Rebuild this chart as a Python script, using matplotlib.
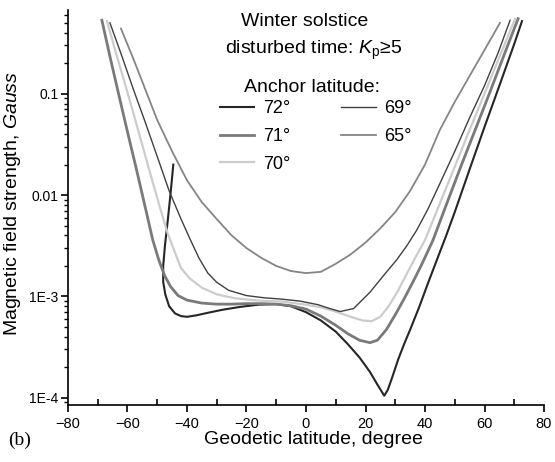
import matplotlib
matplotlib.use("Agg")
import matplotlib.pyplot as plt
from matplotlib.ticker import FixedLocator, FixedFormatter, LogLocator, NullFormatter, MultipleLocator

plt.rcParams["font.family"] = ["Liberation Sans", "DejaVu Sans"]
plt.rcParams["mathtext.fontset"] = "custom"
plt.rcParams["mathtext.rm"] = "Liberation Sans"
plt.rcParams["mathtext.it"] = "Liberation Sans:italic"

# anchor latitude 65 deg
lat65 = [-62.2, -58, -54, -50, -45, -40, -35, -30, -25, -20, -15, -10, -5, 0, 5, 10,
         15, 20, 25, 30, 35, 40, 45, 50, 55, 60, 65.2]
b65 = [0.44, 0.22, 0.11, 0.055, 0.027, 0.014, 0.0085, 0.0058, 0.0040, 0.0030, 0.0024,
       0.0020, 0.00178, 0.0017, 0.00175, 0.0021, 0.0026, 0.0034, 0.0047, 0.0068, 0.011,
       0.02, 0.044, 0.083, 0.15, 0.27, 0.5]

# anchor latitude 69 deg
lat69 = [-65.9, -62, -58, -54, -50, -46, -42, -39, -36, -33, -30, -26, -20, -14, -8, -2,
         4, 8, 11.5, 16, 21.5, 26, 30.5, 34, 37.2, 41, 45, 50, 55, 60, 64.5, 68.6]
b69 = [0.5, 0.24, 0.11, 0.052, 0.024, 0.011, 0.0058, 0.0037, 0.0024, 0.0017, 0.00138,
       0.00115, 0.00102, 0.00097, 0.00094, 0.0009, 0.00083, 0.00076, 0.00071, 0.00076,
       0.0011, 0.0016, 0.0023, 0.0032, 0.0045, 0.0073, 0.013, 0.027, 0.058, 0.12, 0.25, 0.53]

# anchor latitude 70 deg
lat70 = [-66.9, -64, -61, -58, -55, -52, -49, -46.5, -44, -42, -39, -35, -30, -24, -16,
         -8, 0, 5, 10, 15, 19, 22, 25, 28, 31, 34, 37, 40, 45, 50, 55, 60, 65, 70.3]
b70 = [0.52, 0.26, 0.13, 0.064, 0.031, 0.015, 0.0074, 0.0042, 0.0027, 0.0019, 0.0015,
       0.00122, 0.00105, 0.00096, 0.00091, 0.00089, 0.00083, 0.00078, 0.00071, 0.00063,
       0.00058, 0.00057, 0.00063, 0.00082, 0.00115, 0.0017, 0.0025, 0.0036, 0.0083,
       0.019, 0.044, 0.1, 0.23, 0.55]

# anchor latitude 71 deg
lat71 = [-68.6, -66, -63, -60, -57, -54, -51.5, -49.5, -47.5, -45.5, -43, -40, -35, -30,
         -25, -20, -15, -10, -5, 0, 5, 10, 14, 18, 21.5, 24, 27, 30, 33, 36, 39, 42.7,
         47, 52, 57, 62, 67, 71.3]
b71 = [0.53, 0.24, 0.1, 0.042, 0.018, 0.0075, 0.0036, 0.0023, 0.0016, 0.00125, 0.00102,
       0.00092, 0.00086, 0.00084, 0.00084, 0.00085, 0.00085, 0.00084, 0.00081, 0.00075,
       0.00064, 0.00052, 0.00043, 0.00037, 0.00035, 0.00037, 0.00047, 0.00066, 0.00095,
       0.0014, 0.0021, 0.0036, 0.0078, 0.019, 0.045, 0.107, 0.26, 0.55]

# anchor latitude 72 deg (starts at the hook near -45)
lat72 = [-44.6, -45.5, -46.5, -47.4, -48.0, -48.0, -47.3, -46, -44, -42, -40, -37, -33,
         -28, -22, -16, -10, -5, 0, 5, 10, 14, 18, 21.5, 24, 26.3, 27.5, 29, 31, 33, 35,
         38, 41, 44, 47, 50, 55, 60, 65, 70, 72.6]
b72 = [0.02, 0.0105, 0.0055, 0.0032, 0.002, 0.0014, 0.00105, 0.0008, 0.00068, 0.00064,
       0.00063, 0.00065, 0.00069, 0.00074, 0.00079, 0.00083, 0.00084, 0.0008, 0.0007,
       0.00058, 0.00045, 0.00034, 0.00025, 0.00018, 0.000135, 0.000105, 0.00012, 0.00016,
       0.00024, 0.00034, 0.00047, 0.00078, 0.00135, 0.0023, 0.0039, 0.0068, 0.018, 0.047,
       0.12, 0.31, 0.52]

ytick_vals = [1e-4, 1e-3, 1e-2, 1e-1]
ytick_labels = ["1E-4", "1E-3", "0.01", "0.1"]

fig = plt.figure(figsize=(5.55, 4.62), dpi=100)
ax = fig.add_axes([0.1225, 0.1234, 0.8577, 0.855])

ax.plot(lat72, b72, color="#262626", lw=1.5, label="72°")
ax.plot(lat71, b71, color="#7a7a7a", lw=2.0, label="71°")
ax.plot(lat70, b70, color="#cccccc", lw=1.6, label="70°")
ax.plot(lat69, b69, color="#404040", lw=1.0, label="69°")
ax.plot(lat65, b65, color="#858585", lw=1.3, label="65°")

ax.set_yscale("log")
ax.set_xlim(-80, 80)
ax.set_ylim(8.5e-5, 0.67)

ax.spines["top"].set_visible(False)
ax.spines["right"].set_visible(False)
for s in ("left", "bottom"):
    ax.spines[s].set_linewidth(1.2)

ax.xaxis.set_major_locator(MultipleLocator(20))
ax.xaxis.set_minor_locator(MultipleLocator(10))
ax.yaxis.set_major_locator(FixedLocator(ytick_vals))
ax.yaxis.set_major_formatter(FixedFormatter(ytick_labels))
ax.yaxis.set_minor_locator(LogLocator(base=10, subs=range(2, 10)))
ax.yaxis.set_minor_formatter(NullFormatter())
ax.tick_params(axis="x", which="major", direction="out", length=5, width=1.2, labelsize=10.5)
ax.tick_params(axis="x", which="minor", direction="in", length=4, width=1.2)
ax.tick_params(axis="y", which="major", direction="out", length=5, width=1.2, labelsize=10, pad=2)
ax.tick_params(axis="y", which="minor", direction="out", length=3, width=1.0)

fig.text(313 / 555, 1 - 440 / 462, "Geodetic latitude, degree", ha="center", va="center", fontsize=14)
fig.text(13 / 555, 1 - 204 / 462, "Magnetic field strength, $\\it{Gauss}$", ha="center", va="center",
         rotation=90, fontsize=14)
fig.text(8 / 555, 1 - 440 / 462, "(b)", ha="left", va="center", fontsize=14, family="Liberation Serif")

fig.text(305 / 555, 1 - 22 / 462, "Winter solstice", ha="center", va="center", fontsize=14)
fig.text(314 / 555, 1 - 50 / 462, "disturbed time: $K_\\mathrm{p}$≥5", ha="center", va="center", fontsize=14)
fig.text(312 / 555, 1 - 88 / 462, "Anchor latitude:", ha="center", va="center", fontsize=14)

ax.legend(loc="upper left", bbox_to_anchor=(220 / 555, 1 - 100 / 462), bbox_transform=fig.transFigure,
          ncol=2, frameon=False, fontsize=13, handlelength=1.9, handletextpad=0.5,
          columnspacing=2.8, labelspacing=0.6, borderpad=0, borderaxespad=0)

fig.savefig("out.png", dpi=100)
